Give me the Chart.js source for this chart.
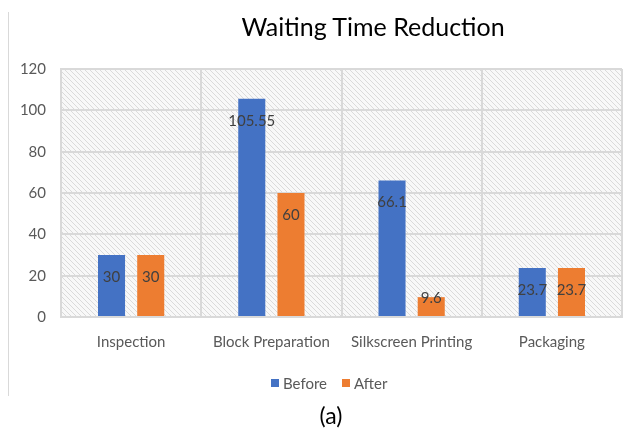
<!DOCTYPE html>
<html lang="en">
<head>
<meta charset="UTF-8">
<title>Waiting Time Reduction</title>
<script src="https://cdn.jsdelivr.net/npm/chart.js@4.4.6/dist/chart.umd.min.js"></script>
<style>
  * { box-sizing: border-box; margin: 0; padding: 0; }
  body { width: 635px; height: 430px; background: #fff; position: relative; overflow: hidden; font-family: Lato, "Open Sans", sans-serif; }
  #frame { position: absolute; left: 8px; top: 12px; width: 1px; height: 384px; background: #d9d9d9; }
  #chart { position: absolute; left: 0; top: 0; }
  #title { position: absolute; left: 237px; top: 11px; width: 272px; text-align: center; font-size: 25px; color: #000; white-space: nowrap; line-height: 30px; }
  #legend { position: absolute; left: 271px; top: 373px; display: flex; gap: 15px; font-size: 15px; color: #595959; line-height: 20px; }
  .item { display: flex; align-items: center; gap: 4px; }
  .swatch { width: 8px; height: 8px; }
  #caption { position: absolute; left: 300px; top: 401px; width: 62px; text-align: center; font-size: 23px; color: #000; line-height: 28px; }
</style>
</head>
<body>
<div id="frame"></div>
<canvas id="chart" width="635" height="430"></canvas>
<div id="title">Waiting Time Reduction</div>
<div id="legend"></div>
<div id="caption">(a)</div>

<script>
// ── Data ─────────────────────────────────────────────────────────────────────
const categories = ['Inspection', 'Block Preparation', 'Silkscreen Printing', 'Packaging'];
const before = [30, 105.55, 66.1, 23.7];
const after = [30, 60, 9.6, 23.7];
const seriesNames = ['Before', 'After'];
const seriesColors = ['#4472C4', '#ED7D31'];
const yTicks = [0, 20, 40, 60, 80, 100, 120];

// ── Legend (html) ────────────────────────────────────────────────────────────
const legendEl = document.getElementById('legend');
seriesNames.forEach((name, i) => {
  legendEl.innerHTML += `<div class="item"><div class="swatch" style="background:${seriesColors[i]}"></div>${name}</div>`;
});

// ── Hatched plot background ──────────────────────────────────────────────────
function hatch(ctx) {
  const tile = document.createElement('canvas');
  tile.width = 5; tile.height = 5;
  const t = tile.getContext('2d');
  t.fillStyle = '#f8f8f8';
  t.fillRect(0, 0, 5, 5);
  t.strokeStyle = '#dadada';
  t.lineWidth = 1;
  t.beginPath();
  t.moveTo(-1, -1); t.lineTo(6, 6);
  t.moveTo(-1, 4); t.lineTo(1, 6);
  t.moveTo(4, -1); t.lineTo(6, 1);
  t.stroke();
  return ctx.createPattern(tile, 'repeat');
}

const plotBg = {
  id: 'plotBg',
  beforeDraw(chart) {
    const { ctx, chartArea: a } = chart;
    ctx.save();
    ctx.fillStyle = hatch(ctx);
    ctx.fillRect(a.left, a.top, a.right - a.left, a.bottom - a.top);
    ctx.restore();
  }
};

// Excel-like "inside end" value labels
const valueLabels = {
  id: 'valueLabels',
  afterDatasetsDraw(chart) {
    const { ctx } = chart;
    ctx.save();
    ctx.font = '15px Lato, "Open Sans", sans-serif';
    ctx.fillStyle = '#404040';
    ctx.textAlign = 'center';
    ctx.textBaseline = 'middle';
    chart.data.datasets.forEach((ds, di) => {
      chart.getDatasetMeta(di).data.forEach((bar, i) => {
        const h = bar.base - bar.y;
        const y = h > 30 ? bar.y + 22 : bar.y + 1;
        ctx.fillText(String(ds.data[i]), bar.x, y);
      });
    });
    ctx.restore();
  }
};

Chart.defaults.font.family = 'Lato, "Open Sans", sans-serif';
Chart.defaults.font.size = 15;
Chart.defaults.color = '#595959';

new Chart(document.getElementById('chart'), {
  type: 'bar',
  data: {
    labels: categories,
    datasets: [
      { label: seriesNames[0], data: before, backgroundColor: seriesColors[0] },
      { label: seriesNames[1], data: after, backgroundColor: seriesColors[1] },
    ],
  },
  options: {
    responsive: false,
    animation: false,
    layout: { padding: { top: 69, right: 13, bottom: 73, left: 0 } },
    datasets: { bar: { categoryPercentage: 0.559, barPercentage: 0.69 } },
    plugins: {
      legend: { display: false },
      tooltip: { enabled: false },
    },
    scales: {
      x: {
        grid: { color: '#d9d9d9', lineWidth: 2, drawTicks: false },
        border: { color: '#d9d9d9', width: 2 },
        ticks: { padding: 16, color: '#595959' },
        afterFit: s => { s.height = 40; },
      },
      y: {
        min: 0,
        max: 120,
        afterBuildTicks: s => { s.ticks = yTicks.map(v => ({ value: v })); },
        grid: { color: '#d9d9d9', lineWidth: 2, drawTicks: false },
        border: { color: '#d9d9d9', width: 2 },
        ticks: { padding: 15, color: '#595959' },
        afterFit: s => { s.width = 61; },
      },
    },
  },
  plugins: [plotBg, valueLabels],
});
</script>
</body>
</html>
